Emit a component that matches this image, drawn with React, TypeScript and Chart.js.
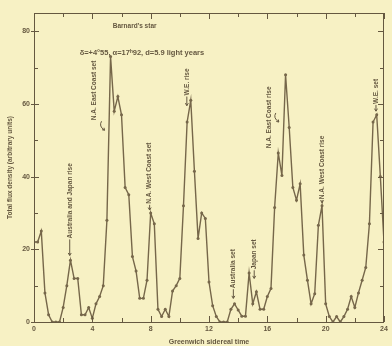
import React, { useEffect, useRef } from 'react';
import { Chart, registerables } from 'chart.js';

Chart.register(...registerables);

// Greenwich sidereal time (hours), one reading every quarter hour
const siderealHours = [
  0, 0.25, 0.5, 0.75, 1, 1.25, 1.5, 1.75, 2, 2.25, 2.5, 2.75,
  3, 3.25, 3.5, 3.75, 4, 4.25, 4.5, 4.75, 5, 5.25, 5.5, 5.75,
  6, 6.25, 6.5, 6.75, 7, 7.25, 7.5, 7.75, 8, 8.25, 8.5, 8.75,
  9, 9.25, 9.5, 9.75, 10, 10.25, 10.5, 10.75, 11, 11.25, 11.5, 11.75,
  12, 12.25, 12.5, 12.75, 13, 13.25, 13.5, 13.75, 14, 14.25, 14.5, 14.75,
  15, 15.25, 15.5, 15.75, 16, 16.25, 16.5, 16.75, 17, 17.25, 17.5, 17.75,
  18, 18.25, 18.5, 18.75, 19, 19.25, 19.5, 19.75, 20, 20.25, 20.5, 20.75,
  21, 21.25, 21.5, 21.75, 22, 22.25, 22.5, 22.75, 23, 23.25, 23.5, 23.75, 24,
];

// Total flux density (arbitrary units)
const fluxDensity = [
  22, 22, 25, 8, 2, 0, 0, 0, 4, 10, 17, 12,
  12, 2, 2, 4, 1, 5, 7, 10, 28, 73, 58, 62,
  57, 37, 35, 18, 14, 6.5, 6.5, 11.5, 30, 27, 3.5, 1.5,
  3.5, 1.5, 8.5, 10, 12, 32, 55, 61, 41.5, 23, 30, 28.5,
  11, 4.5, 1.5, 0, 0, 0, 3.5, 5, 3.3, 1.6, 1.6, 13.5,
  5, 8.3, 3.5, 3.5, 7, 9.2, 31.5, 46.5, 40.3, 68, 53.5, 37,
  33.5, 38, 18.4, 11.5, 5, 7.8, 26.6, 32, 5, 1.5, 0, 1.5,
  0, 1.5, 3.5, 7, 4, 8, 11.5, 15, 27, 55, 57, 40, 22,
];

const xTickLabels = [0, 4, 8, 12, 16, 20, 24];
const yTickLabels = [0, 20, 40, 60, 80];

const titleLine1 = "Barnard's star";
const titleLine2 = 'δ=+4°55, α=17ʰ92, d=5.9 light years';
const yTitle = 'Total flux density (arbitrary units)';
const xTitle = 'Greenwich sidereal time';

// event labels: text, column (hours), text start value, arrow tip value
const eventLabels = ['Australia and Japan rise', 'N.A. East Coast set', 'N.A. West Coast set', 'W.E. rise', 'Australia set', 'Japan set', 'N.A. East Coast rise', 'N.A. West Coast rise', 'W.E. set'];
const eventHours = [2.45, 4.15, 7.93, 10.48, 13.67, 15.1, 16.1, 19.75, 23.45];
const eventBase = [23, 55.5, 32.5, 62.3, 9.3, 14.5, 47.8, 33.8, 60];
const eventTip = [18.3, null, 30.8, 59.5, 6.5, 12, null, 32.8, 58];

const BG = '#f7f1c4';
const INK = '#655840';
const LINE = '#76674a';
const FONT = '"Liberation Sans", Arial, sans-serif';

const decoPlugin = {
  id: 'deco',
  beforeDraw(chart: any) {
    const { ctx, width, height } = chart;
    ctx.save();
    ctx.fillStyle = BG;
    ctx.fillRect(0, 0, width, height);
    ctx.restore();
  },
  afterDraw(chart: any) {
    const { ctx, chartArea: a } = chart;
    const x = chart.scales.x;
    const y = chart.scales.y;
    ctx.save();
    ctx.strokeStyle = INK;
    ctx.lineWidth = 1;
    ctx.strokeRect(a.left + 0.5, a.top + 0.5, a.right - a.left - 1, a.bottom - a.top);
    ctx.beginPath();
    for (let h = 0; h <= 24; h += 2) {
      const px = Math.round(x.getPixelForValue(h)) + 0.5;
      const L = h % 4 === 0 ? 6 : 4;
      ctx.moveTo(px, a.bottom);
      ctx.lineTo(px, a.bottom - L);
      ctx.moveTo(px, a.top);
      ctx.lineTo(px, a.top + L);
    }
    for (let v = 0; v <= 80; v += 10) {
      const py = Math.round(y.getPixelForValue(v)) + 0.5;
      const major = v % 20 === 0;
      ctx.moveTo(a.left - (major ? 3 : 0), py);
      ctx.lineTo(a.left + (major ? 5 : 4), py);
      ctx.moveTo(a.right, py);
      ctx.lineTo(a.right - (major ? 6 : 4), py);
    }
    ctx.stroke();

    // titles inside plot
    ctx.fillStyle = INK;
    ctx.textBaseline = 'middle';
    ctx.textAlign = 'center';
    ctx.font = 'bold 6.5px ' + FONT;
    ctx.fillText(titleLine1, x.getPixelForValue(6.9), y.getPixelForValue(81.5));
    ctx.font = 'bold 7.5px ' + FONT;
    ctx.fillText(titleLine2, x.getPixelForValue(7.4), y.getPixelForValue(74));

    // event labels
    ctx.font = 'bold 6.5px ' + FONT;
    eventLabels.forEach((t, i) => {
      const px = x.getPixelForValue(eventHours[i]);
      const pb = y.getPixelForValue(eventBase[i]);
      ctx.save();
      ctx.translate(px, pb);
      ctx.rotate(-Math.PI / 2);
      ctx.textAlign = 'left';
      ctx.textBaseline = 'middle';
      ctx.fillText(t, 0, 0);
      ctx.restore();
      const tip = eventTip[i];
      ctx.beginPath();
      if (tip !== null) {
        const pt = y.getPixelForValue(tip);
        ctx.moveTo(px, pb + 1);
        ctx.lineTo(px, pt);
        ctx.stroke();
        ctx.beginPath();
        ctx.moveTo(px - 1.5, pt - 2.5);
        ctx.lineTo(px, pt);
        ctx.lineTo(px + 1.5, pt - 2.5);
        ctx.stroke();
      } else {
        // hooked arrow toward the curve
        const hx = px + 5;
        const hy = i === 1 ? pb + 1 : y.getPixelForValue(57.5);
        ctx.moveTo(hx + 2, hy);
        ctx.quadraticCurveTo(hx - 1, hy + 5, hx + 5, hy + 9);
        ctx.stroke();
        ctx.beginPath();
        ctx.moveTo(hx + 2.5, hy + 8.5);
        ctx.lineTo(hx + 5, hy + 9);
        ctx.lineTo(hx + 4.5, hy + 6.5);
        ctx.stroke();
      }
    });
    ctx.restore();
  },
};

export default function App() {
  const ref = useRef<HTMLCanvasElement>(null);
  useEffect(() => {
    if (!ref.current) return;
    const chart = new Chart(ref.current, {
      type: 'line',
      data: {
        datasets: [
          {
            data: siderealHours.map((h, i) => ({ x: h, y: fluxDensity[i] })),
            borderColor: LINE,
            backgroundColor: LINE,
            borderWidth: 1.4,
            pointRadius: 1.5,
            pointBorderWidth: 0,
            tension: 0,
          },
        ],
      },
      options: {
        responsive: false,
        animation: false,
        events: [],
        layout: { padding: { top: 13, right: 8, left: 0, bottom: 0 } },
        plugins: { legend: { display: false }, tooltip: { enabled: false }, title: { display: false } },
        scales: {
          x: {
            type: 'linear',
            min: 0,
            max: 24,
            afterFit: (s: any) => { s.height = 24; },
            grid: { display: false, drawTicks: false },
            border: { display: false },
            ticks: {
              stepSize: 4,
              padding: 3,
              color: INK,
              font: { family: FONT, size: 7, weight: 'bold' },
              callback: (v: any) => (xTickLabels.includes(v) ? String(v) : ''),
              maxRotation: 0,
            },
            title: { display: true, text: xTitle, color: INK, font: { family: FONT, size: 7, weight: 'bold' }, padding: { top: 0, bottom: 0 } },
          },
          y: {
            min: 0,
            max: 85,
            afterFit: (s: any) => { s.width = 34; },
            grid: { display: false, drawTicks: false },
            border: { display: false },
            ticks: {
              stepSize: 20,
              includeBounds: false,
              padding: 4,
              color: INK,
              font: { family: FONT, size: 7, weight: 'bold' },
              callback: (v: any) => (yTickLabels.includes(v) ? String(v) : ''),
            },
            title: { display: true, text: yTitle, color: INK, font: { family: FONT, size: 6.5, weight: 'bold' }, padding: { top: 6, bottom: 0 } },
          },
        },
      },
      plugins: [decoPlugin],
    });
    return () => chart.destroy();
  }, []);
  return (
    <div style={{ position: 'absolute', left: 0, top: 0, width: 392, height: 346, background: BG }}>
      <canvas ref={ref} width={392} height={346} />
    </div>
  );
}
